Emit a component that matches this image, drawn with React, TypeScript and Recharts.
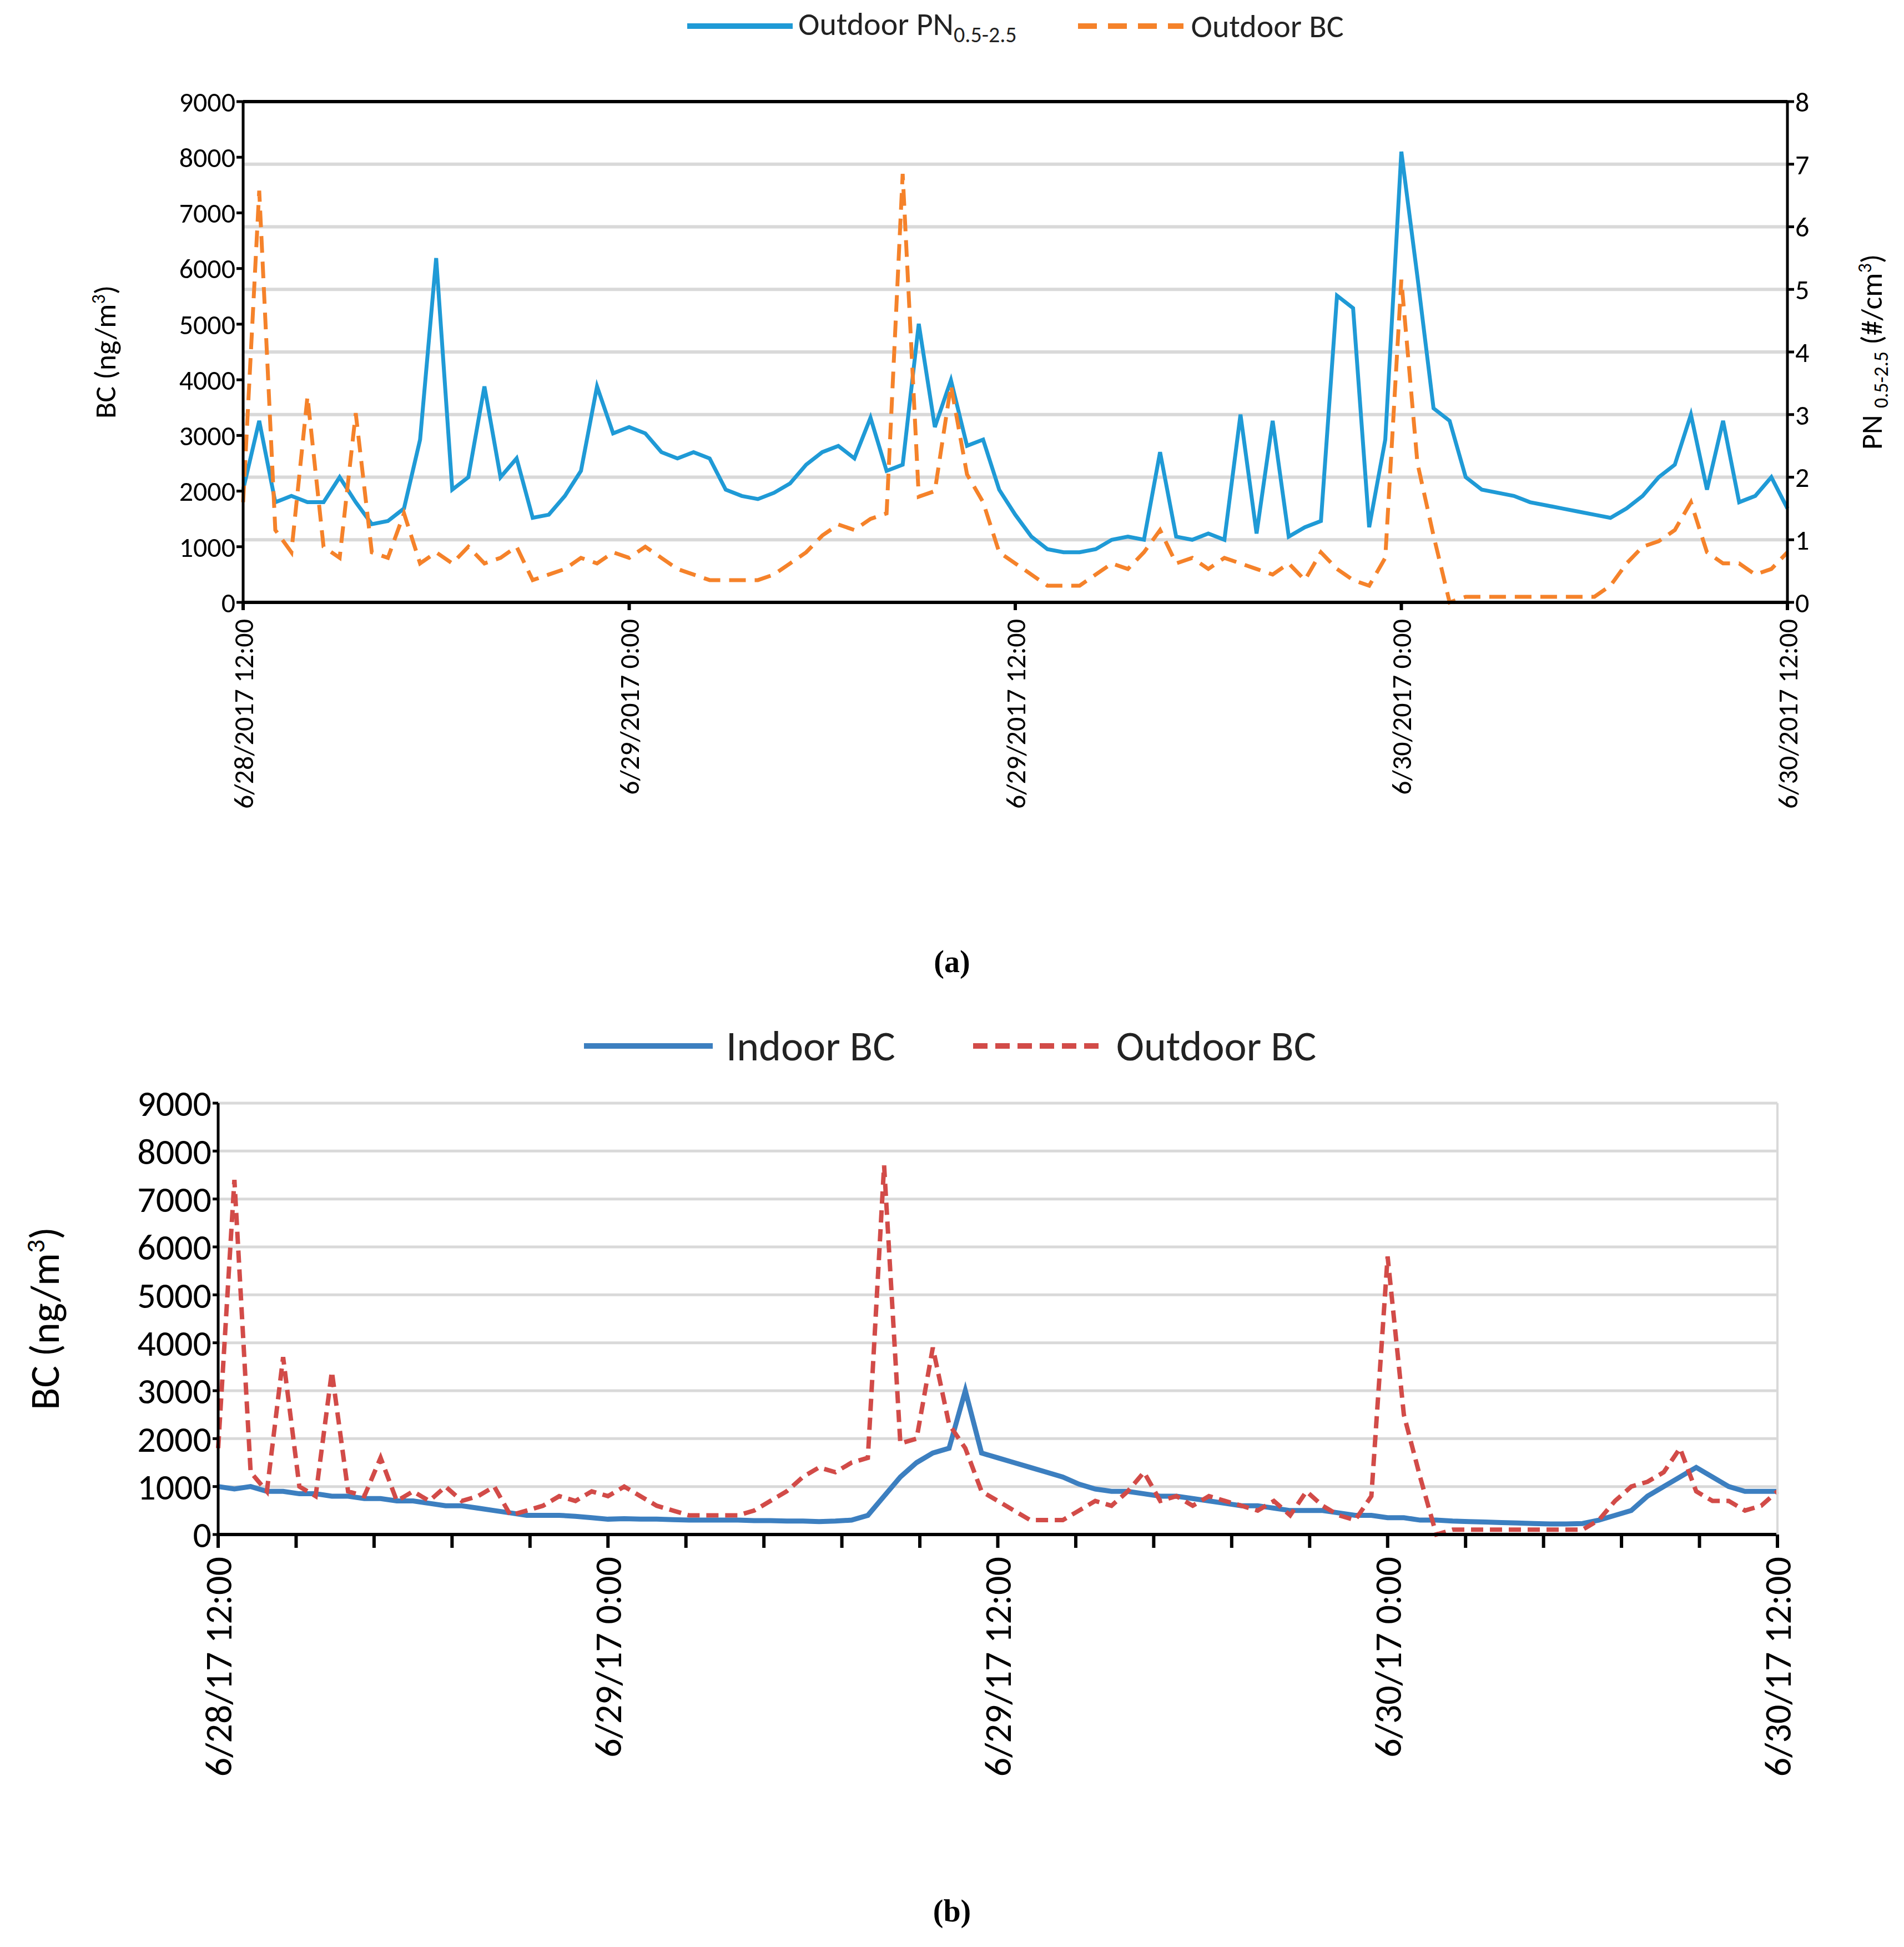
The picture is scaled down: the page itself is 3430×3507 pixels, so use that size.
import React from 'react'
import { LineChart, Line, XAxis, YAxis, CartesianGrid } from 'recharts'

// hours since 6/28/2017 12:00
const hours = [
  0, 0.5, 1, 1.5, 2, 2.5, 3, 3.5, 4, 4.5, 5, 5.5, 6, 6.5, 7, 7.5, 8, 8.5, 9, 9.5,
  10, 10.5, 11, 11.5, 12, 12.5, 13, 13.5, 14, 14.5, 15, 15.5, 16, 16.5, 17, 17.5, 18, 18.5, 19, 19.5,
  20, 20.5, 21, 21.5, 22, 22.5, 23, 23.5, 24, 24.5, 25, 25.5, 26, 26.5, 27, 27.5, 28, 28.5, 29, 29.5,
  30, 30.5, 31, 31.5, 32, 32.5, 33, 33.5, 34, 34.5, 35, 35.5, 36, 36.5, 37, 37.5, 38, 38.5, 39, 39.5,
  40, 40.5, 41, 41.5, 42, 42.5, 43, 43.5, 44, 44.5, 45, 45.5, 46, 46.5, 47, 47.5, 48,
]

const outdoorBC = [
  1800, 7400, 1300, 900, 3700, 1000, 800, 3400, 900, 800, 1600, 700, 900, 700, 1000, 700, 800, 1000, 400, 500,
  600, 800, 700, 900, 800, 1000, 800, 600, 500, 400, 400, 400, 400, 500, 700, 900, 1200, 1400, 1300, 1500,
  1600, 7700, 1900, 2000, 3900, 2300, 1800, 900, 700, 500, 300, 300, 300, 500, 700, 600, 900, 1300, 700, 800,
  600, 800, 700, 600, 500, 700, 400, 900, 600, 400, 300, 800, 5800, 2500, 1200, 0, 100, 100, 100, 100,
  100, 100, 100, 100, 100, 300, 700, 1000, 1100, 1300, 1800, 900, 700, 700, 500, 600, 900,
]

const outdoorPN = [
  1.8, 2.9, 1.6, 1.7, 1.6, 1.6, 2.0, 1.6, 1.25, 1.3, 1.5, 2.6, 5.5, 1.8, 2.0, 3.45, 2.0, 2.3, 1.35, 1.4,
  1.7, 2.1, 3.45, 2.7, 2.8, 2.7, 2.4, 2.3, 2.4, 2.3, 1.8, 1.7, 1.65, 1.75, 1.9, 2.2, 2.4, 2.5, 2.3, 2.95,
  2.1, 2.2, 4.45, 2.8, 3.55, 2.5, 2.6, 1.8, 1.4, 1.05, 0.85, 0.8, 0.8, 0.85, 1.0, 1.05, 1.0, 2.4, 1.05, 1.0,
  1.1, 1.0, 3.0, 1.1, 2.9, 1.05, 1.2, 1.3, 4.9, 4.7, 1.2, 2.6, 7.2, 5.2, 3.1, 2.9, 2.0, 1.8, 1.75, 1.7,
  1.6, 1.55, 1.5, 1.45, 1.4, 1.35, 1.5, 1.7, 2.0, 2.2, 3.0, 1.8, 2.9, 1.6, 1.7, 2.0, 1.5,
]

const indoorBC = [
  1000, 950, 1000, 900, 900, 850, 850, 800, 800, 750, 750, 700, 700, 650, 600, 600, 550, 500, 450, 400,
  400, 400, 380, 350, 320, 330, 320, 320, 310, 300, 300, 300, 300, 290, 290, 280, 280, 270, 280, 300,
  400, 800, 1200, 1500, 1700, 1800, 3000, 1700, 1600, 1500, 1400, 1300, 1200, 1050, 950, 900, 900, 850, 800, 800,
  750, 700, 650, 600, 600, 550, 500, 500, 500, 450, 400, 400, 350, 350, 300, 300, 280, 270, 260, 250,
  240, 230, 220, 220, 230, 300, 400, 500, 800, 1000, 1200, 1400, 1200, 1000, 900, 900, 900,
]

const majorTicks = [0, 12, 24, 36, 48]
const minorTicks = [0, 2.4, 4.8, 7.2, 9.6, 12, 14.4, 16.8, 19.2, 21.6, 24, 26.4, 28.8, 31.2, 33.6, 36, 38.4, 40.8, 43.2, 45.6, 48]
const labelsA = ['6/28/2017 12:00', '6/29/2017 0:00', '6/29/2017 12:00', '6/30/2017 0:00', '6/30/2017 12:00']
const labelsB = ['6/28/17 12:00', '6/29/17 0:00', '6/29/17 12:00', '6/30/17 0:00', '6/30/17 12:00']
const bcTicks = [0, 1000, 2000, 3000, 4000, 5000, 6000, 7000, 8000, 9000]
const pnTicks = [0, 1, 2, 3, 4, 5, 6, 7, 8]

const data = hours.map((h, i) => ({ h, bc: outdoorBC[i], pn: outdoorPN[i], indoor: indoorBC[i] }))

const font = 'Calibri, Carlito, "Open Sans", "Liberation Sans", sans-serif'

const RotTick = (labels: string[], size: number) => (props: any) => {
  const { x, y, payload } = props
  const idx = majorTicks.indexOf(payload.value)
  if (idx < 0) return null
  return (
    <text x={x} y={y + 14} transform={`rotate(-90 ${x} ${y + 14})`} textAnchor="end" dy="0.35em"
      fontSize={size} fontFamily={font} fill="#000">
      {labels[idx]}
    </text>
  )
}

export default function App() {
  return (
    <div style={{ position: 'absolute', left: 0, top: 0, width: 3430, height: 3507, background: '#fff', fontFamily: font }}>
      {/* legend (a) */}
      <div style={{ position: 'absolute', top: 8, left: 1238, display: 'flex', alignItems: 'center', fontSize: 58, color: '#222' }}>
        <svg width={190} height={20}><line x1={0} y1={10} x2={190} y2={10} stroke="#1f9ad6" strokeWidth={10} /></svg>
        <span style={{ marginLeft: 10 }}>Outdoor PN<sub style={{ fontSize: 40 }}>0.5-2.5</sub></span>
        <svg width={190} height={20} style={{ marginLeft: 110 }}><line x1={0} y1={10} x2={190} y2={10} stroke="#f5822a" strokeWidth={10} strokeDasharray="34 20" /></svg>
        <span style={{ marginLeft: 14 }}>Outdoor BC</span>
      </div>

      <div style={{ position: 'absolute', top: 0, left: 0 }}>
        <LineChart width={3430} height={1620} data={data} margin={{ top: 183, right: 0, left: 0, bottom: 0 }}>
          <CartesianGrid yAxisId="pn" vertical={false} stroke="#d9d9d9" strokeWidth={6} horizontalValues={[1, 2, 3, 4, 5, 6, 7]} />
          <XAxis dataKey="h" type="number" domain={[0, 48]} ticks={majorTicks} height={535}
            stroke="#000" strokeWidth={6} tickSize={14} tick={RotTick(labelsA, 50)} interval={0} />
          <YAxis yAxisId="bc" domain={[0, 9000]} ticks={bcTicks} width={438} stroke="#000" strokeWidth={5}
            tickSize={12} tick={{ fontSize: 50, fill: '#000', fontFamily: font }} interval={0} />
          <YAxis yAxisId="pn" orientation="right" domain={[0, 8]} ticks={pnTicks} width={210} stroke="#000" strokeWidth={5}
            tickSize={12} tick={{ fontSize: 50, fill: '#000', fontFamily: font }} interval={0} />
          <Line yAxisId="pn" dataKey="pn" stroke="#1f9ad6" strokeWidth={7} dot={false} isAnimationActive={false} />
          <Line yAxisId="bc" dataKey="bc" stroke="#f5822a" strokeWidth={7} strokeDasharray="30 16" dot={false} isAnimationActive={false} />
        </LineChart>
      </div>
      {/* top border (a) */}
      <div style={{ position: 'absolute', left: 438, top: 180, width: 2782, height: 6, background: '#000' }} />
      <div style={{ position: 'absolute', left: 190, top: 634, transform: 'translate(-50%,-50%) rotate(-90deg)', fontSize: 54, whiteSpace: 'nowrap' }}>
        BC (ng/m<sup style={{ fontSize: 34 }}>3</sup>)
      </div>
      <div style={{ position: 'absolute', left: 3375, top: 634, transform: 'translate(-50%,-50%) rotate(-90deg)', fontSize: 54, whiteSpace: 'nowrap' }}>
        PN <sub style={{ fontSize: 36 }}>0.5-2.5</sub> (#/cm<sup style={{ fontSize: 34 }}>3</sup>)
      </div>
      <div style={{ position: 'absolute', left: 0, width: 3430, top: 1700, textAlign: 'center', fontSize: 56, fontWeight: 'bold', fontFamily: '"Liberation Serif", serif' }}>(a)</div>

      {/* legend (b) */}
      <div style={{ position: 'absolute', top: 1838, left: 1052, display: 'flex', alignItems: 'center', fontSize: 76, color: '#222' }}>
        <svg width={232} height={20}><line x1={0} y1={10} x2={232} y2={10} stroke="#3c7fc0" strokeWidth={10} /></svg>
        <span style={{ marginLeft: 24 }}>Indoor BC</span>
        <svg width={232} height={20} style={{ marginLeft: 140 }}><line x1={0} y1={10} x2={232} y2={10} stroke="#d24b48" strokeWidth={10} strokeDasharray="26 14" /></svg>
        <span style={{ marginLeft: 26 }}>Outdoor BC</span>
      </div>

      <div style={{ position: 'absolute', top: 1987 - 183, left: 0 }}>
        <LineChart width={3430} height={1620} data={data} margin={{ top: 183, right: 228, left: 0, bottom: 0 }}>
          <CartesianGrid vertical={false} stroke="#d9d9d9" strokeWidth={5} horizontalValues={bcTicks.slice(1)} />
          <XAxis dataKey="h" type="number" domain={[0, 48]} ticks={minorTicks} height={1620 - 183 - 777}
            stroke="#000" strokeWidth={6} tickSize={24} tick={RotTick(labelsB, 68)} interval={0} />
          <YAxis domain={[0, 9000]} ticks={bcTicks} width={393} stroke="#000" strokeWidth={5}
            tickSize={10} tick={{ fontSize: 66, fill: '#000', fontFamily: font }} interval={0} />
          <Line dataKey="indoor" stroke="#3c7fc0" strokeWidth={9} dot={false} isAnimationActive={false} />
          <Line dataKey="bc" stroke="#d24b48" strokeWidth={8} strokeDasharray="22 12" dot={false} isAnimationActive={false} />
        </LineChart>
      </div>
      <div style={{ position: 'absolute', left: 3200, top: 1987, width: 4, height: 777, background: '#d9d9d9' }} />
      <div style={{ position: 'absolute', left: 80, top: 2375, transform: 'translate(-50%,-50%) rotate(-90deg)', fontSize: 74, whiteSpace: 'nowrap' }}>
        BC (ng/m<sup style={{ fontSize: 48 }}>3</sup>)
      </div>
      <div style={{ position: 'absolute', left: 0, width: 3430, top: 3410, textAlign: 'center', fontSize: 56, fontWeight: 'bold', fontFamily: '"Liberation Serif", serif' }}>(b)</div>
    </div>
  )
}
